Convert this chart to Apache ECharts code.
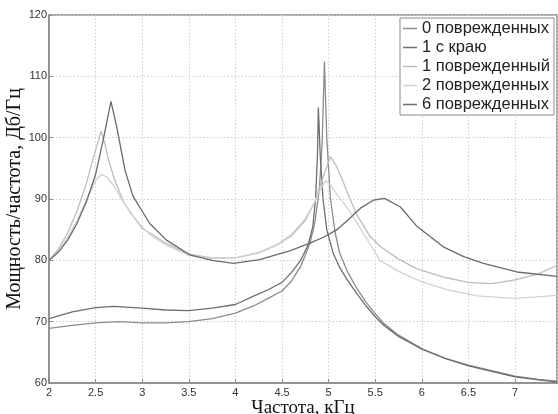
<!DOCTYPE html>
<html>
<head>
<meta charset="utf-8">
<script src="https://cdn.jsdelivr.net/npm/echarts@6/dist/echarts.min.js"></script>
<style>
html,body{margin:0;padding:0;background:#fff;}
#c{width:558px;height:414px;}
</style>
</head>
<body>
<div id="c"></div>
<script>
const seriesNames = ["0 поврежденных", "1 с краю", "1 поврежденный", "2 поврежденных", "6 поврежденных"];
const xTicks = [2, 2.5, 3, 3.5, 4, 4.5, 5, 5.5, 6, 6.5, 7];
const yTicks = [60, 70, 80, 90, 100, 110, 120];

const damaged0 = [[2.0,68.9],[2.25,69.4],[2.5,69.8],[2.75,70.0],[3.0,69.8],[3.25,69.8],[3.5,70.0],[3.75,70.5],[4.0,71.4],[4.2,72.6],[4.35,73.8],[4.5,75.0],[4.6,76.6],[4.7,79.0],[4.8,82.8],[4.85,86.0],[4.9,91.5],[4.93,99.0],[4.955,112.4],[4.98,100.0],[5.02,90.0],[5.07,84.5],[5.12,81.1],[5.2,78.2],[5.3,75.5],[5.4,73.2],[5.5,71.3],[5.6,69.6],[5.75,67.8],[6.0,65.6],[6.25,64.0],[6.5,62.9],[6.75,62.0],[7.0,61.1],[7.25,60.6],[7.45,60.3]];
const edge1 = [[2.0,70.5],[2.25,71.6],[2.5,72.3],[2.7,72.5],[3.0,72.2],[3.25,71.9],[3.5,71.8],[3.75,72.2],[4.0,72.8],[4.2,74.2],[4.35,75.2],[4.5,76.4],[4.6,78.0],[4.7,80.0],[4.78,82.5],[4.83,85.5],[4.86,90.0],[4.88,97.0],[4.89,104.9],[4.91,97.0],[4.94,90.0],[4.98,85.0],[5.05,81.1],[5.12,78.8],[5.2,76.8],[5.3,74.6],[5.4,72.6],[5.5,70.8],[5.6,69.3],[5.75,67.6],[6.0,65.5],[6.25,64.0],[6.5,62.8],[6.75,61.9],[7.0,61.0],[7.25,60.5],[7.45,60.2]];
const damaged1 = [[2.0,80.0],[2.1,81.8],[2.2,84.5],[2.3,88.0],[2.4,92.5],[2.5,98.0],[2.56,101.1],[2.6,99.0],[2.64,96.3],[2.7,93.3],[2.8,89.5],[2.9,87.2],[3.0,85.2],[3.1,84.3],[3.25,82.8],[3.5,81.0],[3.75,80.4],[4.0,80.4],[4.25,81.2],[4.45,82.5],[4.6,84.0],[4.75,86.5],[4.85,89.5],[4.95,94.0],[5.02,96.9],[5.08,95.5],[5.15,93.0],[5.23,90.0],[5.3,87.5],[5.44,84.0],[5.55,82.3],[5.75,80.2],[5.95,78.6],[6.25,77.2],[6.5,76.4],[6.75,76.2],[7.0,76.8],[7.25,77.8],[7.45,79.2]];
const damaged2 = [[2.0,80.0],[2.1,81.5],[2.2,83.8],[2.3,86.5],[2.4,89.8],[2.5,93.0],[2.56,94.0],[2.62,93.6],[2.7,92.0],[2.8,89.5],[2.9,87.3],[3.0,85.4],[3.1,84.0],[3.25,82.5],[3.5,80.8],[3.75,80.3],[4.0,80.4],[4.25,81.3],[4.45,82.6],[4.6,84.2],[4.75,86.8],[4.85,89.5],[4.92,91.8],[4.97,93.0],[5.02,92.3],[5.1,90.5],[5.19,88.8],[5.3,86.2],[5.45,82.5],[5.55,80.0],[5.75,78.2],[6.0,76.5],[6.3,75.1],[6.6,74.2],[6.98,73.8],[7.2,74.0],[7.45,74.3]];
const damaged6 = [[2.0,80.0],[2.1,81.3],[2.2,83.3],[2.3,86.0],[2.4,89.5],[2.5,94.0],[2.58,99.5],[2.665,105.9],[2.726,101.8],[2.815,94.7],[2.9,90.5],[2.94,89.5],[3.0,88.0],[3.08,86.0],[3.26,83.3],[3.51,80.9],[3.75,80.0],[3.98,79.5],[4.26,80.1],[4.59,81.6],[4.8,82.8],[4.95,83.8],[5.09,85.0],[5.23,86.9],[5.35,88.6],[5.48,89.8],[5.6,90.1],[5.77,88.7],[5.95,85.5],[6.23,82.2],[6.45,80.6],[6.66,79.5],[7.02,78.1],[7.45,77.4]];

const seriesData = [damaged0, edge1, damaged1, damaged2, damaged6];
const colors = ["#8c8c8c", "#6e6e6e", "#bcbcbc", "#d2d2d2", "#6a6a6a"];

const chart = echarts.init(document.getElementById('c'), null, {renderer: 'canvas'});
chart.setOption({
  animation: false,
  backgroundColor: '#fff',
  grid: {left: 49, top: 15, right: 1, bottom: 31, containLabel: false, outerBoundsMode: 'none',
    show: true, borderColor: '#8a8a8a', borderWidth: 1.5, backgroundColor: 'transparent'},
  legend: {
    orient: 'vertical', left: 400, top: 18,
    data: seriesNames,
    icon: 'rect', itemWidth: 14, itemHeight: 1.5, itemGap: 0,
    padding: [1, 4, 1, 3],
    borderColor: '#8a8a8a', borderWidth: 1, backgroundColor: '#fff',
    textStyle: {fontFamily: 'Liberation Sans, Arial', fontSize: 16.5, color: '#222', lineHeight: 19}
  },
  xAxis: {
    type: 'value', min: 2, max: 7.45, interval: 0.5,
    name: 'Частота, кГц', nameLocation: 'middle', nameGap: 16, nameMoveOverlap: false,
    nameTextStyle: {fontFamily: 'Liberation Serif, Times New Roman', fontSize: 19, color: '#111'},
    axisLine: {show: true, lineStyle: {color: '#8a8a8a', width: 1.5}},
    axisTick: {show: true, inside: true, length: 4, lineStyle: {color: '#8a8a8a'}},
    axisLabel: {margin: 4, fontFamily: 'Liberation Sans, Arial', fontSize: 11, color: '#333', showMaxLabel: false,
      formatter: v => xTicks.indexOf(v) >= 0 ? String(v) : ''},
    splitLine: {show: true, lineStyle: {color: '#cfcfcf', type: [1.5, 2], width: 1}}
  },
  yAxis: {
    type: 'value', min: 60, max: 120, interval: 10,
    name: 'Мощность/частота, Дб/Гц', nameLocation: 'middle', nameGap: 24, nameMoveOverlap: false,
    nameTextStyle: {fontFamily: 'Liberation Serif, Times New Roman', fontSize: 20, color: '#111'},
    axisLine: {show: true, lineStyle: {color: '#8a8a8a', width: 1.5}},
    axisTick: {show: true, inside: true, length: 4, lineStyle: {color: '#8a8a8a'}},
    axisLabel: {margin: 2, fontFamily: 'Liberation Sans, Arial', fontSize: 11, color: '#333',
      formatter: v => yTicks.indexOf(v) >= 0 ? String(v) : ''},
    splitLine: {show: true, lineStyle: {color: '#cfcfcf', type: [1.5, 2], width: 1}}
  },
  series: seriesNames.map((n, i) => ({
    name: n, type: 'line', data: seriesData[i], symbol: 'none', smooth: false,
    color: colors[i],
    lineStyle: {color: colors[i], width: 1.3}
  }))
});
</script>
</body>
</html>
